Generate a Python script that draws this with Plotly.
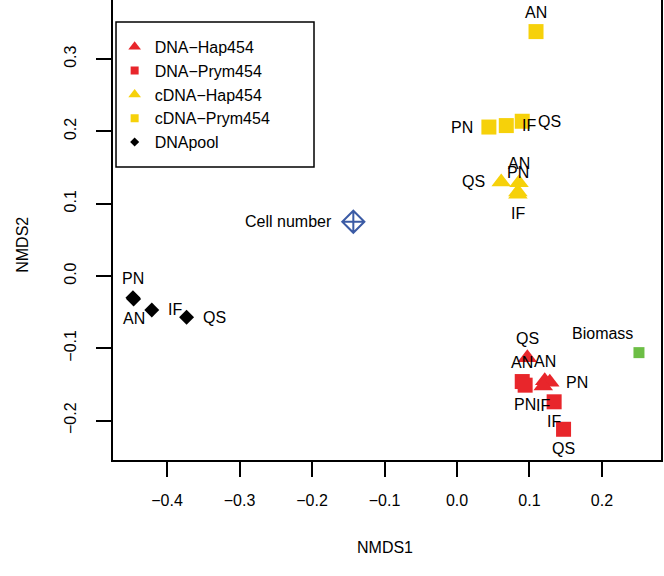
import plotly.graph_objects as go

# ---------------- data ----------------
sites = ["AN", "PN", "IF", "QS"]

dna_hap_x = [0.121, 0.128, 0.119, 0.097]
dna_hap_y = [-0.145, -0.147, -0.152, -0.113]

dna_prym_x = [0.090, 0.094, 0.134, 0.147]
dna_prym_y = [-0.146, -0.151, -0.174, -0.212]

cdna_hap_x = [0.0855, 0.084, 0.084, 0.061]
cdna_hap_y = [0.129, 0.116, 0.113, 0.130]

cdna_prym_x = [0.109, 0.044, 0.068, 0.090]
cdna_prym_y = [0.338, 0.206, 0.208, 0.214]

pool_x = [-0.446, -0.447, -0.421, -0.373]
pool_y = [-0.032, -0.030, -0.047, -0.057]

env_names = ["Cell number", "Biomass"]
env_x = [-0.143, 0.251]
env_y = [0.075, -0.106]

x_ticks = [-0.4, -0.3, -0.2, -0.1, 0.0, 0.1, 0.2]
y_ticks = [-0.2, -0.1, 0.0, 0.1, 0.2, 0.3]

# label placement (style, not data)
dna_hap_pos = ["top", "right", "bottom", "top"]
dna_prym_pos = ["top", "bottom", "bottom", "bottom"]
cdna_hap_pos = ["top", "top", "bottom", "left"]
cdna_prym_pos = ["top", "left", "right", "right"]
pool_pos = ["bottom", "top", "right", "right"]
env_pos = ["farleft", "topleft"]

RED = "#E8262B"
YELLOW = "#F6D10A"
BLACK = "#000000"
BLUE = "#3B5BA5"
GREEN = "#6CBE45"
FONT = "Liberation Sans, Arial, Helvetica, sans-serif"

POS = {
    "top": dict(xanchor="center", yanchor="bottom", xshift=0, yshift=9),
    "bottom": dict(xanchor="center", yanchor="top", xshift=0, yshift=-9),
    "left": dict(xanchor="right", yanchor="middle", xshift=-14, yshift=0),
    "right": dict(xanchor="left", yanchor="middle", xshift=14, yshift=0),
    "farleft": dict(xanchor="right", yanchor="middle", xshift=-19, yshift=0),
    "topleft": dict(xanchor="right", yanchor="bottom", xshift=-4, yshift=9),
}

fig = go.Figure()

groups = [
    ("DNA\u2212Hap454", dna_hap_x, dna_hap_y, dna_hap_pos, "triangle-up", RED, 17, 11),
    ("DNA\u2212Prym454", dna_prym_x, dna_prym_y, dna_prym_pos, "square", RED, 15, 8),
    ("cDNA\u2212Hap454", cdna_hap_x, cdna_hap_y, cdna_hap_pos, "triangle-up", YELLOW, 17, 11),
    ("cDNA\u2212Prym454", cdna_prym_x, cdna_prym_y, cdna_prym_pos, "square", YELLOW, 15, 8),
    ("DNApool", pool_x, pool_y, pool_pos, "diamond", BLACK, 11.5, 7),
]

annotations = []
for name, xs, ys, poss, sym, col, size, lsize in groups:
    fig.add_trace(go.Scatter(
        x=xs, y=ys, mode="markers", showlegend=False, cliponaxis=False,
        marker=dict(symbol=sym, color=col, size=size, line=dict(width=0)),
        name=name, text=sites, hoverinfo="text+x+y",
    ))
    for s, xv, yv, p in zip(sites, xs, ys, poss):
        annotations.append(dict(x=xv, y=yv, text=s, showarrow=False,
                                font=dict(size=16, color="black", family=FONT), **POS[p]))

# environmental points
fig.add_trace(go.Scatter(
    x=[env_x[0]], y=[env_y[0]], mode="markers", showlegend=False, cliponaxis=False,
    marker=dict(symbol="diamond-cross-open", color=BLUE, size=17, line=dict(width=2, color=BLUE)),
    name=env_names[0],
))
fig.add_trace(go.Scatter(
    x=[env_x[1]], y=[env_y[1]], mode="markers", showlegend=False, cliponaxis=False,
    marker=dict(symbol="square", color=GREEN, size=11, line=dict(width=0)),
    name=env_names[1],
))
for s, xv, yv, p in zip(env_names, env_x, env_y, env_pos):
    annotations.append(dict(x=xv, y=yv, text=s, showarrow=False,
                            font=dict(size=16, color="black", family=FONT), **POS[p]))

# legend-only entries with small symbols
for name, xs, ys, poss, sym, col, size, lsize in groups:
    fig.add_trace(go.Scatter(
        x=[None], y=[None], mode="markers", name=name, showlegend=True,
        marker=dict(symbol=sym, color=col, size=lsize, line=dict(width=0)),
    ))

# axis titles as annotations (plot top is cropped in the original)
annotations.append(dict(xref="paper", yref="paper", x=-0.165, y=0.467, text="NMDS2",
                        textangle=-90, showarrow=False, xanchor="center", yanchor="middle",
                        font=dict(size=16, color="black", family=FONT)))
annotations.append(dict(xref="paper", yref="paper", x=0.497, y=-0.19, text="NMDS1",
                        showarrow=False, xanchor="center", yanchor="middle",
                        font=dict(size=16, color="black", family=FONT)))

fig.update_layout(
    width=664, height=576,
    margin=dict(l=113, r=3, t=0, b=116, autoexpand=False),
    plot_bgcolor="white", paper_bgcolor="white",
    font=dict(family=FONT, size=16, color="black"),
    annotations=annotations,
    showlegend=True,
    legend=dict(x=0.003, y=0.935, xanchor="left", yanchor="top",
                bgcolor="rgba(0,0,0,0)", borderwidth=0,
                font=dict(size=16, family=FONT, color="black"),
                tracegroupgap=0, itemsizing="trace"),
    shapes=[dict(type="rect", xref="paper", yref="paper",
                 x0=0.0055, x1=0.3668, y0=0.637, y1=0.952,
                 line=dict(color="black", width=1.5), fillcolor="rgba(0,0,0,0)",
                 layer="above")],
    xaxis=dict(range=[-0.4745, 0.2814], tickvals=x_ticks, tickformat=".1f",
               automargin=False,
               showgrid=False, zeroline=False, showline=True, linecolor="black",
               linewidth=2, ticks="outside", ticklen=15, tickwidth=2, tickcolor="black",
               mirror=False, ticklabelstandoff=10,
               tickfont=dict(size=16, family=FONT, color="black")),
    yaxis=dict(range=[-0.2545, 0.3817], tickvals=y_ticks, tickformat=".1f",
               automargin=False,
               showgrid=False, zeroline=False, showline=True, linecolor="black",
               linewidth=2, ticks="outside", ticklen=15, tickwidth=2, tickcolor="black",
               mirror=True, tickangle=-90, ticklabelstandoff=14,
               tickfont=dict(size=16, family=FONT, color="black")),
)

fig.write_html("out.html", config={"displayModeBar": False},
               post_script="document.body.style.margin='0';document.body.style.overflow='hidden';")
